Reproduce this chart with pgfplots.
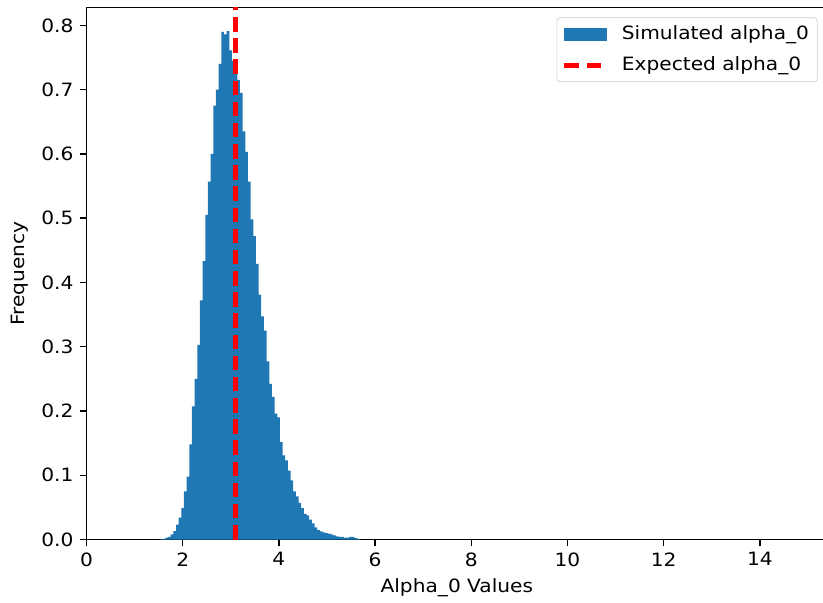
\documentclass[border=0pt]{standalone}
\usepackage{fontspec}
\setmainfont[FakeStretch=1.1]{DejaVu Sans}
\usepackage{pgfplots}
\pgfplotsset{compat=1.18}
\definecolor{histblue}{HTML}{1F77B4}
\definecolor{mplred}{HTML}{FF0000}

\begin{document}
\fontsize{11}{13.2}\selectfont
\begin{tikzpicture}
\begin{axis}[
  name=ax,
  scale only axis,
  width=444.4pt, height=319.3pt,
  xmin=0, xmax=15.4,
  ymin=0, ymax=0.828,
  xtick={0,2,4,6,8,10,12,14},
  ytick={0,0.1,0.2,0.3,0.4,0.5,0.6,0.7,0.8},
  yticklabel style={/pgf/number format/.cd, fixed, fixed zerofill, precision=1},
  /pgf/number format/assume math mode=true,
  tick pos=left,
  tick align=outside,
  major tick length=4pt,
  tick style={black, line width=0.8pt},
  axis line style={line width=0.8pt},
  xlabel={Alpha\_0 Values},
  ylabel={Frequency},
  legend cell align=left,
  legend style={
    at={(1,1)}, anchor=north east, xshift=-5.7pt, yshift=-6pt,
    draw=black!20, rounded corners=2pt, fill=white,
    row sep=4.4pt, inner xsep=3pt, inner ysep=3pt,
  },
]

% histogram of the simulated values (left bin edge, density)
\addplot[const plot, fill=histblue, draw=none,
  legend image code/.code={\fill[histblue, sharp corners] (0pt,-4.1pt) rectangle (25.8pt,4.1pt); \path (31pt,0pt);}]
coordinates {
  (1.528,0.0005) (1.584,0.0012)
  (1.639,0.003) (1.694,0.004) (1.750,0.008) (1.805,0.013) (1.861,0.023)
  (1.916,0.034) (1.971,0.049) (2.027,0.075) (2.082,0.098) (2.138,0.148)
  (2.193,0.207) (2.248,0.250) (2.304,0.303) (2.359,0.372) (2.415,0.433)
  (2.470,0.505) (2.525,0.557) (2.581,0.600) (2.636,0.675) (2.692,0.700)
  (2.747,0.740) (2.802,0.790) (2.858,0.786) (2.913,0.791) (2.969,0.761)
  (3.024,0.745) (3.079,0.728) (3.135,0.715) (3.190,0.695) (3.246,0.635)
  (3.301,0.603) (3.356,0.557) (3.412,0.498) (3.467,0.472) (3.523,0.429)
  (3.578,0.381) (3.633,0.347) (3.689,0.325) (3.744,0.277) (3.800,0.242)
  (3.855,0.222) (3.910,0.196) (3.966,0.190) (4.021,0.152) (4.077,0.131)
  (4.132,0.123) (4.187,0.107) (4.243,0.092) (4.298,0.075) (4.354,0.067)
  (4.409,0.057) (4.464,0.049) (4.520,0.040) (4.575,0.0375) (4.631,0.031)
  (4.686,0.025) (4.741,0.019) (4.797,0.015) (4.852,0.0125) (4.908,0.011)
  (4.963,0.010) (5.018,0.009) (5.074,0.008) (5.129,0.0065) (5.185,0.005)
  (5.240,0.004) (5.295,0.004) (5.351,0.003) (5.406,0.003) (5.462,0.004)
  (5.517,0.004) (5.572,0.002) (5.628,0.001) (5.683,0)
} \closedcycle;
\addlegendentry{Simulated alpha\_0}

% expected value
\addplot[mplred, line width=3pt, dash pattern=on 8.7pt off 4pt,
  legend image code/.code={\draw[mplred, line width=3pt, dash pattern=on 8.5pt off 5pt] (0pt,0pt) -- (23pt,0pt); \path (31pt,0pt);}]
coordinates {(3.09,0) (3.09,0.828)};
\addlegendentry{Expected alpha\_0}

\end{axis}
\pgfresetboundingbox
\path[use as bounding box] ([xshift=-51.9pt, yshift=-37.6pt]ax.south west) rectangle ([xshift=-2.5pt, yshift=4.4pt]ax.north east);
\end{tikzpicture}
\end{document}
